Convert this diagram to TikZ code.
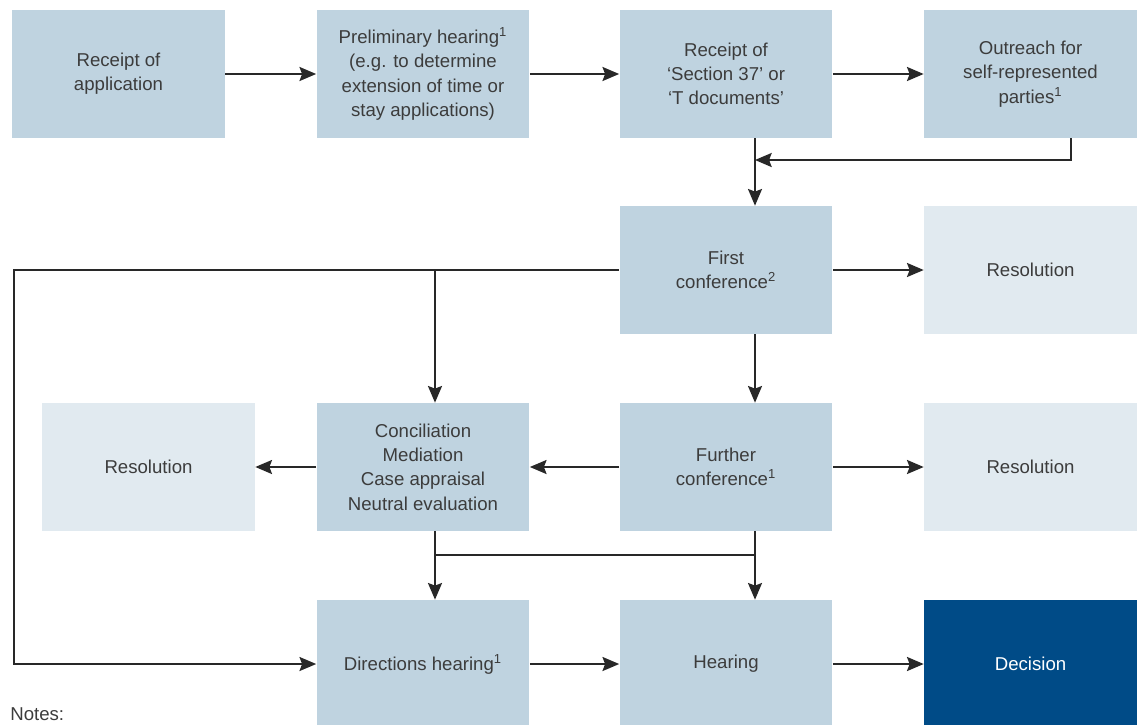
\documentclass[tikz,border=0pt]{standalone}
\usepackage{fontspec}
\setmainfont{Liberation Sans}
\usetikzlibrary{arrows.meta,positioning}

\definecolor{boxblue}{RGB}{191,211,224}
\definecolor{boxpale}{RGB}{225,234,240}
\definecolor{boxdark}{RGB}{0,75,135}
\definecolor{inkgrey}{RGB}{60,60,60}
\definecolor{linegrey}{RGB}{40,40,40}

\begin{document}
\begin{tikzpicture}[x=0.02cm,y=-0.02cm, line join=miter,
  stage/.style={rectangle, fill=boxblue, minimum width=4.26cm, minimum height=2.56cm,
    inner sep=0pt, align=center, text=inkgrey, font=\fontsize{10.6}{13.8}\selectfont},
  outcome/.style={stage, fill=boxpale},
  final/.style={stage, fill=boxdark, text=white},
  link/.style={draw=linegrey, line width=1.1pt},
  flow/.style={link, -{Stealth[length=9.5pt,width=8pt,inset=1.5pt]}}]

% -----------------------------
% Grid (picture pixels)
% -----------------------------
\def\colA{118.5}    % first column
\def\colB{423}      % second column
\def\colC{726}      % third column
\def\colD{1030.5}   % fourth column
\def\rowA{74}
\def\rowB{270}
\def\rowC{467}
\def\rowD{664}

% Room for the notes line at the foot
\useasboundingbox (0,0) rectangle (1141,724);

% -----------------------------
% Stages
% -----------------------------
\node[stage] (rcpt)     at (\colA,\rowA) {Receipt of\\application};
\node[stage] (prelim)   at (\colB,\rowA) {Preliminary hearing\textsuperscript{1}\\(e.g. to determine\\extension of time or\\stay applications)};
\node[stage] (sec37)    at (\colC,\rowA) {Receipt of\\‘Section 37’ or\\‘T documents’};
\node[stage] (outreach) at (\colD,\rowA) {Outreach for\\self-represented\\parties\textsuperscript{1}};

\node[stage]   (first) at (\colC,\rowB) {First\\conference\textsuperscript{2}};
\node[outcome] (resA)  at (\colD,\rowB) {Resolution};

\node[outcome] (resL)    at (148.5,\rowC) {Resolution};
\node[stage]   (concil)  at (\colB,\rowC) {Conciliation\\Mediation\\Case appraisal\\Neutral evaluation};
\node[stage]   (further) at (\colC,\rowC) {Further\\conference\textsuperscript{1}};
\node[outcome] (resB)    at (\colD,\rowC) {Resolution};

\node[stage] (direct)   at (\colB,\rowD) {Directions hearing\textsuperscript{1}};
\node[stage] (hearing)  at (\colC,\rowD) {Hearing};
\node[final] (decision) at (\colD,\rowD) {Decision};

\node[anchor=base west, inner sep=0pt, text=inkgrey, font=\fontsize{10.6}{13.8}\selectfont] (notes) at (10,720) {Notes:};

% -----------------------------
% Bend points
% -----------------------------
\coordinate (cjoin) at (755,160);   % feedback from outreach
\coordinate (odrop) at (1071,138);  % drop under outreach
\coordinate (lcorner) at (14,\rowB); % left return line
\coordinate (bjoin) at (435,\rowB); % branch to conciliation
\coordinate (mjoin) at (435,555);   % join above hearings

% -----------------------------
% Connectors
% -----------------------------
\draw[flow] (rcpt) -- (prelim);
\draw[flow] (prelim) -- (sec37);
\draw[flow] (sec37) -- (outreach);

\draw[flow] (sec37.south -| cjoin) -- (first.north -| cjoin);
\draw[flow] (odrop) |- (cjoin);

\draw[flow] (first) -- (resA);
\draw[flow] (first.west) -- (lcorner) |- (direct.west);
\draw[flow] (bjoin) -- (concil.north -| bjoin);
\draw[flow] (first.south -| cjoin) -- (further.north -| cjoin);

\draw[flow] (further) -- (resB);
\draw[flow] (further) -- (concil);
\draw[flow] (concil) -- (resL);

\draw[flow] (concil.south -| bjoin) -- (direct.north -| bjoin);
\draw[link] (mjoin) -- (mjoin -| cjoin);
\draw[flow] (further.south -| cjoin) -- (hearing.north -| cjoin);

\draw[flow] (direct) -- (hearing);
\draw[flow] (hearing) -- (decision);

\end{tikzpicture}
\end{document}
